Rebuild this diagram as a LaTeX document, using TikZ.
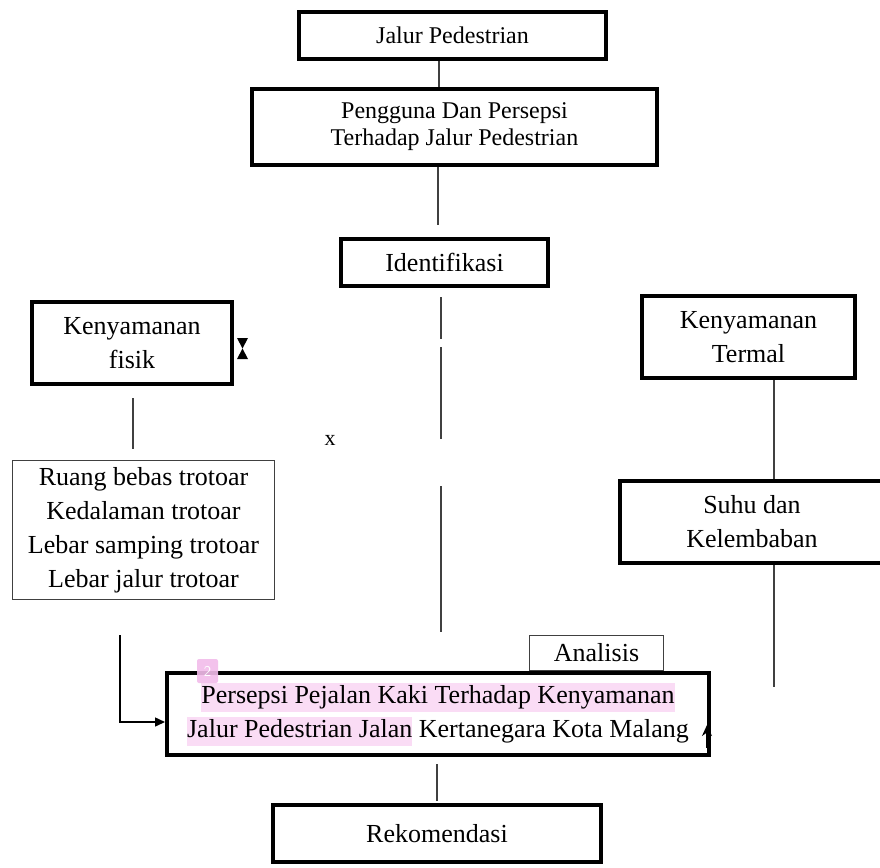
\documentclass[tikz,border=0pt]{standalone}
\usepackage{fontspec}
\setmainfont{Liberation Serif}
\usetikzlibrary{arrows.meta}
\definecolor{hlpink}{HTML}{FADCF5}
\definecolor{markpink}{HTML}{F2BCEB}
\definecolor{linegray}{HTML}{404040}
\newcommand{\hlbox}[1]{{\setlength{\fboxsep}{0pt}\colorbox{hlpink}{\rule[-8pt]{0pt}{29pt}#1}}}
\begin{document}
\begin{tikzpicture}[x=1pt,y=-1pt,
  thickbox/.style={draw=black, line width=4pt, inner sep=0pt, align=center, font=\fontsize{26}{34}\selectfont},
  topbox/.style={thickbox, font=\fontsize{24}{27}\selectfont},
  thinbox/.style={draw=linegray, line width=1pt, inner sep=0pt, align=center, font=\fontsize{26}{34}\selectfont},
  conn/.style={draw=linegray, line width=1.5pt},
  arr/.style={draw=black, line width=1.5pt, -{Triangle[length=10pt,width=9pt]}},
]
\useasboundingbox[fill=white] (0,0) rectangle (880,867);

% nodes
\node[topbox, minimum width=307pt, minimum height=47pt] (b1) at (452.5,35.5) {Jalur Pedestrian};
\node[topbox, minimum width=405pt, minimum height=76pt] (b2) at (454.5,127) {\raisebox{-4pt}{\begin{tabular}{@{}c@{}}Pengguna Dan Persepsi\\Terhadap Jalur Pedestrian\end{tabular}}};
\node[thickbox, minimum width=207pt, minimum height=47pt] (ident) at (444.5,262.5) {Identifikasi};
\node[thickbox, minimum width=200pt, minimum height=82pt] (fisik) at (132,343) {Kenyamanan\\fisik};
\node[thinbox, minimum width=262pt, minimum height=139pt] (ruang) at (143.5,530) {Ruang bebas trotoar\\Kedalaman trotoar\\Lebar samping trotoar\\Lebar jalur trotoar};
\node[thickbox, minimum width=213pt, minimum height=82pt] (termal) at (748.5,337) {Kenyamanan\\Termal};
\node[thickbox, minimum width=264pt, minimum height=82pt] (suhu) at (752,522) {Suhu dan\\Kelembaban};
\node[thinbox, minimum width=134pt, minimum height=35pt] (analisis) at (596.5,653) {Analisis};
\node[thickbox, minimum width=542pt, minimum height=82pt] (main) at (438,714) {\hlbox{Persepsi Pejalan Kaki Terhadap Kenyamanan}\\\hlbox{Jalur Pedestrian Jalan} Kertanegara Kota Malang};
\node[thickbox, minimum width=328pt, minimum height=57pt] (rekom) at (437,833.5) {Rekomendasi};
\node[font=\fontsize{22}{22}\selectfont, inner sep=0pt] (xlab) at (330,440) {x};
\node[fill=markpink, fill opacity=0.9, text opacity=1, rounded corners=2pt, minimum width=21pt, minimum height=24pt, inner sep=0pt, text=white, font=\sffamily\fontsize{15}{15}\selectfont] (mark) at (207.5,671) {2};

% coordinates
\coordinate (c1) at (439,0);
\coordinate (c2) at (438,225);
\coordinate (d1) at (441,297);
\coordinate (d2) at (441,339);
\coordinate (d3) at (441,347);
\coordinate (d4) at (441,439);
\coordinate (d5) at (441,486);
\coordinate (d6) at (441,632);
\coordinate (f1) at (133,398);
\coordinate (f2) at (133,449);
\coordinate (a1) at (120,635);
\coordinate (a2) at (120,722);
\coordinate (t1) at (774,0);
\coordinate (t2) at (774,687);
\coordinate (r1) at (437,764);
\coordinate (r2) at (437,801);
\coordinate (u1) at (707,748);
\coordinate (u2) at (707,725);

% connectors
\draw[conn] (b1.south -| c1) -- (b2.north -| c1);
\draw[conn] (b2.south -| c2) -- (c2);
\draw[conn] (d1) -- (d2);
\draw[conn] (d3) -- (d4);
\draw[conn] (d5) -- (d6);
\draw[conn] (f1) -- (f2);
\draw[arr] (a1) -- (a2) -- (a2 -| main.west);
\draw[conn] (termal.south -| t1) -- (suhu.north -| t1);
\draw[conn] (suhu.south -| t1) -- (t2);
\draw[conn] (r1) -- (r2);
\draw[draw=black, line width=1.5pt, -{Stealth[length=11pt,width=10pt]}] (u1) -- (u2);

% hourglass mark beside fisik
\fill (237,338) -- (248,338) -- (242.5,348.5) -- cycle;
\fill (237,359) -- (248,359) -- (242.5,348.5) -- cycle;
\end{tikzpicture}
\end{document}
